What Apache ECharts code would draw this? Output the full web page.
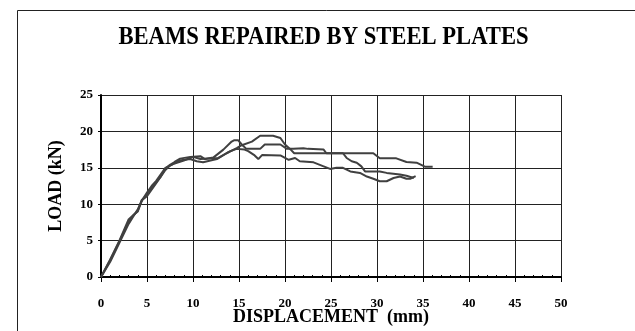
<!DOCTYPE html>
<html>
<head>
<meta charset="utf-8">
<script src="https://cdn.jsdelivr.net/npm/echarts@6/dist/echarts.min.js"></script>
<style>
html,body{margin:0;padding:0;background:#fff;}
#c{width:635px;height:331px;}
</style>
</head>
<body>
<div id="c"></div>
<script>
var titleText = 'BEAMS REPAIRED BY STEEL PLATES';
var xName = 'DISPLACEMENT  (mm)';
var yName = 'LOAD (kN)';
var xTicks = [0, 5, 10, 15, 20, 25, 30, 35, 40, 45, 50];
var yTicks = [0, 5, 10, 15, 20, 25];

var beamA = [[0,0],[1,2.3],[2,4.9],[3,7.6],[3.4,8.3],[4,9.1],[4.4,10.5],[5,11.3],[5.5,12.2],[6,13],[6.5,13.8],[7,14.9],[7.5,15.4],[8,15.8],[8.6,16.26],[9.7,16.5],[10.8,16.6],[11.3,16.2],[12.2,16.4],[13.3,17.5],[14.2,18.6],[14.5,18.8],[14.9,18.8],[15.3,18.2],[15.8,17.6],[17.3,17.6],[17.8,18.2],[19.5,18.2],[20.2,17.6],[20.9,17.6],[22,17.7],[22.2,17.95],[22.5,17.6],[24.2,17.5],[24.5,17.0],[26.3,17.0],[26.7,16.35],[27.25,15.9],[27.8,15.7],[28.3,15.2],[28.7,14.5],[30.3,14.5],[31.05,14.3],[32.5,14.07],[33.2,13.9],[34,13.6]];
var beamB = [[0,0],[1,2.1],[2,4.7],[3,7.3],[4,9.3],[4.5,10.6],[5,11.1],[6,12.9],[7,14.7],[7.5,15.3],[8.5,16.0],[9.7,16.2],[10.4,15.9],[11.1,15.75],[12.6,16.2],[13.65,17.0],[14.75,17.7],[15.3,18.1],[16.4,18.6],[17.3,19.4],[18.7,19.4],[19.5,19.1],[20.0,18.2],[20.7,17.4],[21,17.0],[29.6,17.0],[30.3,16.3],[32.1,16.3],[33.2,15.8],[34.3,15.7],[35.2,15.15],[36.05,15.15]];
var beamC = [[0,0],[1,2.4],[2,5.0],[3,7.9],[3.5,8.5],[4,9.0],[4.4,10.4],[5,11.6],[5.5,12.5],[6,13.2],[7,15.0],[8,15.6],[9,16.0],[10.0,16.5],[10.8,16.2],[12.75,16.35],[14.0,17.26],[14.75,17.6],[15.6,17.5],[16.0,17.3],[16.7,16.7],[17.1,16.2],[17.5,16.75],[19.5,16.7],[20,16.35],[20.4,16.1],[21.1,16.35],[21.6,15.9],[23.1,15.75],[24.2,15.2],[24.9,14.85],[25.6,15.0],[26.3,15.0],[27.1,14.5],[28.15,14.3],[28.9,13.8],[29.6,13.5],[30.3,13.15],[31.05,13.15],[31.8,13.6],[32.5,13.8],[32.7,13.75],[33.2,13.5],[33.6,13.5],[34.2,13.85]];

var FONT = '"Liberation Serif", "Times New Roman", serif';
var chart = echarts.init(document.getElementById('c'), null, {renderer: 'canvas'});
function mkSeries(name, data) {
  return {
    name: name, type: 'line', data: data, symbol: 'none',
    lineStyle: {color: '#404040', width: 2}, z: 5
  };
}
var option = {
  backgroundColor: '#fff',
  animation: false,
  graphic: [
    {type: 'rect', shape: {x: 17.5, y: 10.5, width: 660, height: 360}, style: {fill: null, stroke: '#222', lineWidth: 1}, silent: true},
    {type: 'text', x: 323.5, y: 37, scaleX: 0.87, style: {text: titleText, font: 'bold 26px ' + FONT, fill: '#000', textAlign: 'center', textVerticalAlign: 'middle'}}
  ],
  grid: {left: 101, top: 95, width: 460, height: 182.7, containLabel: false},
  xAxis: [{
    type: 'value', min: xTicks[0], max: xTicks[xTicks.length - 1], interval: 5, position: 'bottom',
    name: xName, nameLocation: 'middle', nameGap: 31, nameMoveOverlap: false,
    nameTextStyle: {fontFamily: FONT, fontWeight: 'bold', fontSize: 18, color: '#000'},
    axisLine: {show: true, lineStyle: {color: '#000', width: 2}},
    axisTick: {show: true, length: 5, lineStyle: {color: '#000'}},
    axisLabel: {fontFamily: FONT, fontWeight: 'bold', fontSize: 13, color: '#000', margin: 20},
    splitLine: {show: true, lineStyle: {color: '#222', width: 1}}
  }, {
    type: 'value', min: xTicks[0], max: xTicks[xTicks.length - 1], interval: 5, position: 'bottom',
    axisLine: {show: false}, axisLabel: {show: false}, splitLine: {show: false},
    axisTick: {show: false, inside: true},
    minorTick: {show: true, splitNumber: 5, length: 2, lineStyle: {color: '#000', width: 1}}
  }],
  yAxis: {
    type: 'value', min: yTicks[0], max: yTicks[yTicks.length - 1], interval: 5,
    name: yName, nameLocation: 'middle', nameGap: 36, nameRotate: 90, nameMoveOverlap: false,
    nameTextStyle: {fontFamily: FONT, fontWeight: 'bold', fontSize: 18, color: '#000'},
    axisLine: {show: true, lineStyle: {color: '#000', width: 2}},
    axisTick: {show: true, length: 3, lineStyle: {color: '#000'}},
    axisLabel: {fontFamily: FONT, fontWeight: 'bold', fontSize: 13, color: '#000', margin: 8},
    splitLine: {show: true, lineStyle: {color: '#222', width: 1}}
  },
  series: [mkSeries('A', beamA), mkSeries('B', beamB), mkSeries('C', beamC)]
};
chart.setOption(option);
</script>
</body>
</html>
